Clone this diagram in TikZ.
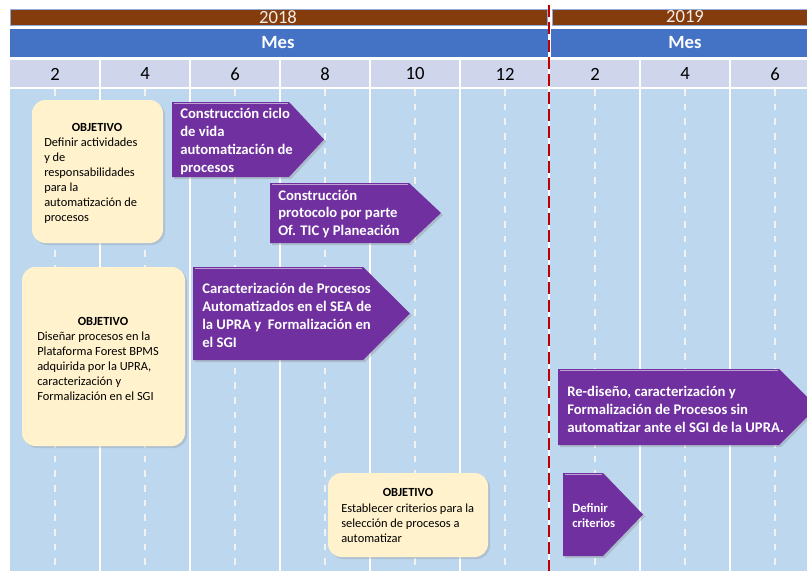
\documentclass[tikz,border=0pt]{standalone}
\usepackage{fontspec}
\setmainfont{Carlito}
\usepackage{tikz}
\usetikzlibrary{shadows}

\definecolor{cafe}{RGB}{132,60,12}
\definecolor{azulmes}{RGB}{68,114,196}
\definecolor{grismes}{RGB}{207,213,234}
\definecolor{fondo}{RGB}{189,215,238}
\definecolor{morado}{RGB}{112,48,160}
\definecolor{crema}{RGB}{255,242,204}
\definecolor{rojo}{RGB}{192,0,0}

\tikzset{
  anio/.style={fill=cafe, draw=azulmes!60, line width=0.4pt},
  mesbar/.style={fill=azulmes},
  tarea/.style={fill=morado, drop shadow={opacity=0.3, shadow xshift=1.5pt, shadow yshift=-1.5pt}},
  brillo/.style={draw=morado!45!white, line width=0.9pt},
  objetivo/.style={fill=crema, rounded corners=10pt, drop shadow={opacity=0.25, shadow xshift=1.5pt, shadow yshift=-1.5pt}},
  txttarea/.style={anchor=west, align=left, text=white, inner sep=0pt, font=\bfseries\fontsize{11}{13.3}\selectfont},
  txtobj/.style={anchor=west, align=left, inner sep=0pt, font=\fontsize{9.3}{11.2}\selectfont},
  titobj/.style={inner sep=0pt, font=\bfseries\fontsize{9.3}{11.2}\selectfont}
}

\begin{document}
\begin{tikzpicture}[x=0.75pt,y=-0.75pt]
\useasboundingbox (0,0) rectangle (807,571);
\clip (0,0) rectangle (807,571);

% cabecera
\draw[anio] (10,9) rectangle (547,25);
\draw[anio] (552,9) rectangle (812,25);
\node[text=white!90!cafe, font=\fontsize{14}{16}\selectfont] (a2018) at (278,17) {2018};
\node[text=white!90!cafe, font=\fontsize{14}{16}\selectfont] (a2019) at (685,17) {2019};
\fill[mesbar] (10,29) rectangle (548,57);
\fill[mesbar] (551,29) rectangle (812,57);
\node[text=white, font=\bfseries\fontsize{14}{16}\selectfont] (mes1) at (278,43) {Mes};
\node[text=white, font=\bfseries\fontsize{14}{16}\selectfont] (mes2) at (685,43) {Mes};
\fill[grismes] (10,60) rectangle (812,87);
\fill[fondo] (10,89) rectangle (812,575);

\foreach \n [count=\i from 0] in {2,4,6,8,10,12,2,4,6}
  \node[font=\fontsize{14}{16}\selectfont] (col\i) at ({55+90*\i},74) {\n};

\foreach \x in {100,190,280,370,460,549,640,730}
  \draw[white, line width=1.2pt] (\x,60) -- (\x,575);
\foreach \x in {55,145,...,775}
  \draw[white!90!gray, line width=0.8pt, dash pattern=on 5pt off 6pt] (\x,89) -- (\x,575);

% objetivos
\fill[objetivo] (32,100) rectangle (163,243);
\node[titobj] (obj1t) at (97,127) {OBJETIVO};
\node[txtobj] (obj1) at (44,180.5) {Definir actividades\\y de\\responsabilidades\\para la\\automatización de\\procesos};

\fill[objetivo] (22,267) rectangle (185,446);
\node[titobj] (obj2t) at (103,321) {OBJETIVO};
\node[txtobj] (obj2) at (37,366) {Diseñar procesos en la\\Plataforma Forest BPMS\\adquirida por la UPRA,\\caracterización y\\Formalización en el SGI};

\fill[objetivo] (328,473) rectangle (488,557);
\node[titobj] (obj3t) at (408,492) {OBJETIVO};
\node[txtobj] (obj3) at (341,523) {Establecer criterios para la\\selección de procesos a\\automatizar};

% tareas
\fill[tarea] (172,102) -- (289,102) -- (324,139.5) -- (289,177) -- (172,177) -- cycle;
\draw[brillo] (174,103.5) -- (288,103.5);
\node[txttarea] (t1) at (180,141.5) {Construcción ciclo\\de vida\\automatización de\\procesos};

\fill[tarea] (270,183) -- (409,183) -- (441,213) -- (409,243) -- (270,243) -- cycle;
\draw[brillo] (272,184.5) -- (408,184.5);
\node[txttarea] (t2) at (278,214) {Construcción\\protocolo por parte\\Of. TIC y Planeación};

\fill[tarea] (193,267) -- (363,267) -- (410,313.5) -- (363,360) -- (193,360) -- cycle;
\draw[brillo] (195,268.5) -- (362,268.5);
\node[txttarea] (t3) at (202,315.5) {Caracterización de Procesos\\Automatizados en el SEA de\\la UPRA y~ Formalización en\\el SGI};

\fill[tarea] (558,369) -- (779,369) -- (817,407) -- (779,445) -- (558,445) -- cycle;
\draw[brillo] (560,370.5) -- (778,370.5);
\node[txttarea] (t4) at (567,409.5) {Re-diseño, caracterización y\\Formalización de Procesos sin\\automatizar ante el SGI de la UPRA.};

\fill[tarea] (563,473) -- (603,473) -- (643,514.5) -- (603,556) -- (563,556) -- cycle;
\draw[brillo] (565,474.5) -- (602,474.5);
\node[txttarea, font=\bfseries\fontsize{9.5}{11.3}\selectfont] (t5) at (572,515.5) {Definir\\criterios};

% corte de anio
\draw[rojo, line width=2.2pt, dash pattern=on 9pt off 4pt] (549,5) -- (549,575);
\end{tikzpicture}
\end{document}
